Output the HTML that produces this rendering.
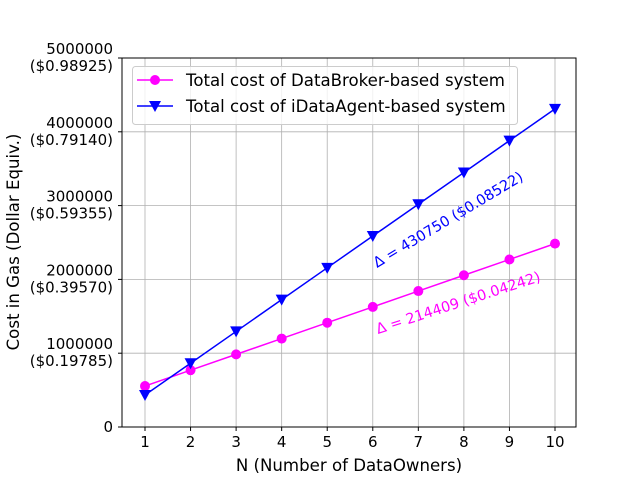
<!DOCTYPE html>
<html><head><meta charset="utf-8"><style>body{margin:0;background:#fff}svg{display:block;font-family:"DejaVu Sans","Liberation Sans",sans-serif}</style></head>
<body>
<svg id="chart" width="640" height="480">
<rect x="122" y="58" width="454" height="369" fill="#fff" stroke="none"/>
<g id="grid"></g><g id="axes"></g><g id="series"></g>
<rect x="122" y="58" width="454" height="369" fill="none" stroke="#000" stroke-width="1"/>
<text x="377" y="268" transform="rotate(-31 377 268)" fill="#0000ff" font-size="14.5">Δ = 430750 ($0.08522)</text>
<text x="378" y="334" transform="rotate(-18 378 334)" fill="#ff00ff" font-size="14.5">Δ = 214409 ($0.04242)</text>
<g>
<rect x="132.5" y="66.5" width="385" height="58" rx="3" fill="#fff" fill-opacity="0.8" stroke="#ccc"/>
<line x1="137" y1="80" x2="173" y2="80" stroke="#ff00ff" stroke-width="1.5"/>
<circle cx="155" cy="80" r="5" fill="#ff00ff"/>
<text x="186" y="86" font-size="16.6">Total cost of DataBroker-based system</text>
<line x1="137" y1="106" x2="173" y2="106" stroke="#0000ff" stroke-width="1.5"/>
<path d="M149,101 L161,101 L155,112 Z" fill="#0000ff"/>
<text x="186" y="112" font-size="16.6">Total cost of iDataAgent-based system</text>
</g>
<text x="349" y="471" text-anchor="middle" font-size="16.6">N (Number of DataOwners)</text>
<text transform="translate(19 242) rotate(-90)" text-anchor="middle" font-size="16.6">Cost in Gas (Dollar Equiv.)</text>
</svg>
<script>
const categories=[1,2,3,4,5,6,7,8,9,10];
const databroker=[555000,770000,984000,1198000,1413000,1627000,1842000,2056000,2270000,2485000];
const idataagent=[434000,864000,1295000,1726000,2157000,2588000,3018000,3449000,3880000,4310000];
const yTicks=[0,1000000,2000000,3000000,4000000,5000000];
const yTickLabels=["0","1000000\n($0.19785)","2000000\n($0.39570)","3000000\n($0.59355)","4000000\n($0.79140)","5000000\n($0.98925)"];
const NS="http://www.w3.org/2000/svg";
const X=v=>145+(v-1)*(555-145)/9;
const Y=v=>427-v*(369/5000000);
function mk(tag,attrs,parent){const e=document.createElementNS(NS,tag);for(const k in attrs)e.setAttribute(k,attrs[k]);parent.appendChild(e);return e;}
const grid=document.getElementById('grid'),axes=document.getElementById('axes'),ser=document.getElementById('series');
categories.forEach(c=>{
 const g=mk('line',{x1:X(c),x2:X(c),y1:58,y2:427,stroke:'#b0b0b0','stroke-width':0.8},grid);
 
 
 mk('line',{x1:X(c),x2:X(c),y1:427,y2:431,stroke:'#000'},axes);
 const t=mk('text',{x:X(c),y:447,'text-anchor':'middle','font-size':15},axes);
 t.textContent=c;
 
 
});
yTicks.forEach((v,i)=>{
 const g=mk('line',{x1:122,x2:576,y1:Y(v),y2:Y(v),stroke:'#b0b0b0','stroke-width':0.8},grid);
 
 
 mk('line',{x1:118,x2:122,y1:Y(v),y2:Y(v),stroke:'#000'},axes);
 const lines=yTickLabels[i].split('\n');
 lines.forEach((s,j)=>{
  const t=mk('text',{x:113,y:Y(v)+5-(lines.length-1-j)*17+(lines.length>1?8:0),'text-anchor':'end','font-size':15},axes);
  t.textContent=s;
  
  
 });
});
function series(vals,color,marker,name){
 const p=mk('polyline',{points:vals.map((v,i)=>X(categories[i])+','+Y(v)).join(' '),fill:'none',stroke:color,'stroke-width':1.5},ser);
 
 
 vals.forEach((v,i)=>{
  const x=X(categories[i]),y=Y(v);let m;
  if(marker==='o')m=mk('circle',{cx:x,cy:y,r:5,fill:color},ser);
  else m=mk('path',{d:`M${x-6},${y-5} L${x+6},${y-5} L${x},${y+6} Z`,fill:color},ser);
  
  
 });
}
series(databroker,'#ff00ff','o','databroker');
series(idataagent,'#0000ff','v','idataagent');
</script>
</body></html>
